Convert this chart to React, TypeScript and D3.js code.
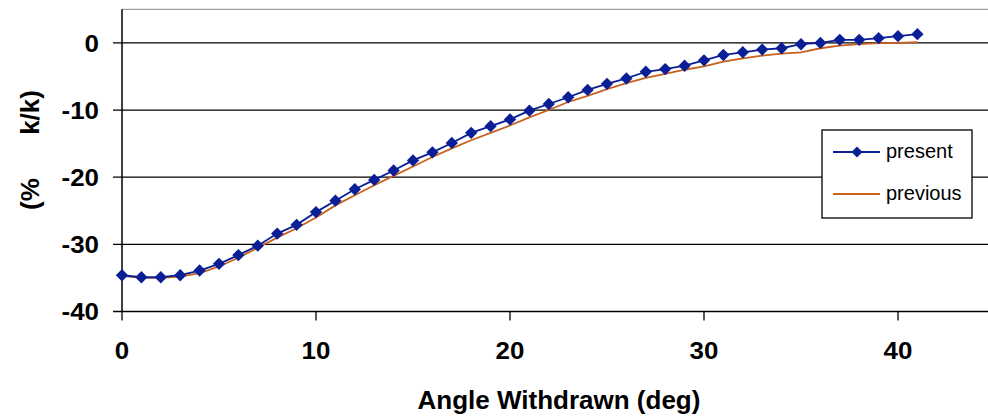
import * as d3 from "d3";

// angle withdrawn (deg), one reading per degree
const angles = d3.range(0, 42);

const present = [
  -34.6, -34.9, -34.9, -34.6, -33.9, -32.9, -31.6, -30.2, -28.4, -27.1,
  -25.2, -23.5, -21.8, -20.4, -19.0, -17.5, -16.3, -14.9, -13.4, -12.4,
  -11.4, -10.1, -9.1, -8.1, -7.0, -6.1, -5.3, -4.3, -3.9, -3.4,
  -2.6, -1.8, -1.4, -1.0, -0.8, -0.2, 0.0, 0.45, 0.45, 0.7,
  1.0, 1.3,
];

const previous = [
  -34.7, -35.0, -35.0, -34.8, -34.3, -33.3, -32.0, -30.5, -29.0, -27.6,
  -26.0, -24.2, -22.7, -21.2, -19.8, -18.4, -17.0, -15.7, -14.5, -13.4,
  -12.3, -11.1, -10.0, -8.8, -7.9, -6.9, -6.0, -5.2, -4.6, -4.0,
  -3.5, -2.8, -2.3, -1.9, -1.6, -1.4, -0.8, -0.4, -0.2, -0.05,
  0.0, 0.1,
];

const xTicks = [0, 10, 20, 30, 40];
const yTicks = [0, -10, -20, -30, -40];
const seriesNames = ["present", "previous"];

const width = 988;
const height = 417;
const font = "'Liberation Sans', Arial, sans-serif";
const blue = "#0a1f96";
const orange = "#c8601e";

const App = () => {
  const x = d3.scaleLinear().domain([0, 45]).range([122, 995]);
  const y = d3.scaleLinear().domain([-40, 5]).range([311.5, 9.3]);

  const line = d3
    .line<number>()
    .x((_, i) => x(angles[i]))
    .y((d) => y(d));

  const diamond = d3.symbol().type(d3.symbolSquare).size(76)();

  const left = x(0);
  const bottom = y(-40);

  return (
    <svg
      width={width}
      height={height}
      style={{ position: "absolute", left: 0, top: 0, background: "#fff" }}
      fontFamily={font}
    >
      {/* top border of plot area */}
      <line x1={left} x2={width} y1={y(5)} y2={y(5)} stroke="#a0a0a0" strokeWidth={1.3} />

      {/* gridlines */}
      {yTicks.map((t) => (
        <line key={t} x1={left - 9} x2={width} y1={y(t)} y2={y(t)} stroke="#000" strokeWidth={1.3} />
      ))}
      {yTicks.map((t) => (
        <text
          key={t}
          transform={`translate(99,${y(t)}) scale(1.08,1)`}
          dy="0.36em"
          textAnchor="end"
          fontSize={24}
          fontWeight="bold"
        >
          {t}
        </text>
      ))}

      {/* axes */}
      <line x1={left} x2={left} y1={y(5)} y2={bottom} stroke="#000" strokeWidth={1.5} />
      {xTicks.map((t) => (
        <g key={t}>
          <line x1={x(t)} x2={x(t)} y1={bottom} y2={bottom + 9} stroke="#000" strokeWidth={1.3} />
          <text
            transform={`translate(${x(t)},359) scale(1.08,1)`}
            textAnchor="middle"
            fontSize={24}
            fontWeight="bold"
          >
            {t}
          </text>
        </g>
      ))}

      <text x={559} y={409} textAnchor="middle" fontSize={26} fontWeight="bold">
        Angle Withdrawn (deg)
      </text>
      <text
        transform="translate(39,150) rotate(-90)"
        textAnchor="middle"
        fontSize={26}
        fontWeight="bold"
        xmlSpace="preserve"
        style={{ whiteSpace: "pre" }}
      >
        {"(%      k/k)"}
      </text>

      {/* series */}
      <path d={line(previous) ?? ""} fill="none" stroke={orange} strokeWidth={1.8} />
      <path d={line(present) ?? ""} fill="none" stroke={blue} strokeWidth={1.8} />
      {present.map((v, i) => (
        <path
          key={i}
          d={diamond ?? ""}
          transform={`translate(${x(angles[i])},${y(v)}) rotate(45)`}
          fill={blue}
        />
      ))}

      {/* legend */}
      <rect x={822} y={130} width={150} height={88} fill="#fff" stroke="#000" strokeWidth={1.3} />
      <line x1={833} x2={880} y1={152} y2={152} stroke={blue} strokeWidth={1.8} />
      <path d={d3.symbol().type(d3.symbolSquare).size(60)() ?? ""} transform="translate(857,152) rotate(45)" fill={blue} />
      <text x={886} y={158} fontSize={20}>
        {seriesNames[0]}
      </text>
      <line x1={833} x2={880} y1={194} y2={194} stroke={orange} strokeWidth={1.8} />
      <text x={886} y={200} fontSize={20}>
        {seriesNames[1]}
      </text>
    </svg>
  );
};

export default App;
